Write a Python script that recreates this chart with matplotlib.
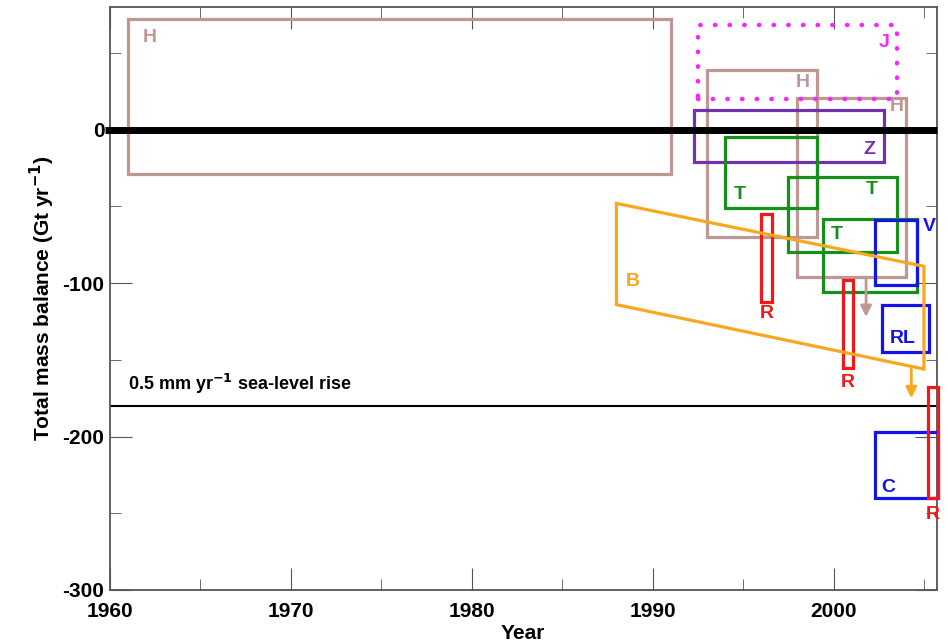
import numpy as np
import matplotlib.pyplot as plt
from matplotlib.patches import Rectangle, Polygon
from matplotlib.ticker import MultipleLocator

plt.rcParams['font.family'] = ['Liberation Sans', 'DejaVu Sans']
plt.rcParams['font.weight'] = 'bold'
plt.rcParams['axes.unicode_minus'] = False

# rectangles: label, start year, end year, low, high
box_labels = ['H', 'H', 'H', 'J', 'Z', 'T', 'T', 'T', 'V', 'RL', 'C', 'R', 'R', 'R']
box_x0 = [1961.0, 1993.0, 1998.0, 1992.5, 1992.3, 1994.0, 1997.5, 1999.4,
          2002.3, 2002.7, 2002.3, 1996.0, 2000.5, 2005.2]
box_x1 = [1991.0, 1999.1, 2004.0, 2003.5, 2002.8, 1999.1, 2003.5, 2004.6,
          2004.6, 2005.3, 2005.8, 1996.6, 2001.05, 2005.75]
box_lo = [-29, -70, -96, 20, -21, -51, -80, -106, -101, -145, -240, -112, -155, -240]
box_hi = [72, 39, 21, 68, 13, -5, -31, -58, -59, -114, -197, -55, -98, -168]

# B parallelogram (year, upper, lower)
b_years = [1988.0, 2005.0]
b_upper = [-48, -89]
b_lower = [-114, -156]

# arrows: year, from, to
arrow_year = [2001.8, 2004.3]
arrow_from = [-96, -156]
arrow_to = [-122, -175]

sea_level = -180

colors = {'H': '#bf9793', 'J': '#ff22ff', 'Z': '#6f33b0', 'T': '#15901a',
          'V': '#1414e6', 'RL': '#1414e6', 'C': '#1414e6', 'R': '#f01818',
          'B': '#f7a81e'}

# label spots (year, value) per box
label_pos = [(1961.8, 60, 'left'), (1998.3, 31, 'center'), (2003.5, 15, 'center'),
             (2002.8, 57, 'center'), (2002.0, -13, 'center'), (1994.8, -42, 'center'),
             (2002.1, -39, 'center'), (2000.2, -68, 'center'), (2005.3, -63, 'center'),
             (2003.8, -136, 'center'), (2003.0, -233, 'center'), (1996.3, -120, 'center'),
             (2000.8, -165, 'center'), (2005.5, -251, 'center')]

fig = plt.figure(figsize=(9.48, 6.44), dpi=100)
ax = fig.add_axes([0.116, 0.084, 0.872, 0.905])

for i in range(len(box_labels)):
    lab = box_labels[i]
    if lab == 'J':
        r = Rectangle((box_x0[i], box_lo[i]), box_x1[i] - box_x0[i],
                      box_hi[i] - box_lo[i], fill=False, ec=colors[lab],
                      lw=3.2, ls=(0, (0.1, 3.2)), capstyle='round', zorder=3)
    else:
        r = Rectangle((box_x0[i], box_lo[i]), box_x1[i] - box_x0[i],
                      box_hi[i] - box_lo[i], fill=False, ec=colors[lab],
                      lw=2.3, clip_on=False, zorder=3)
    ax.add_patch(r)
    px, py, ha = label_pos[i]
    ax.text(px, py, lab, color=colors[lab], fontsize=14, fontweight='bold',
            ha=ha, va='center', zorder=5)

pts = [(b_years[0], b_upper[0]), (b_years[1], b_upper[1]),
       (b_years[1], b_lower[1]), (b_years[0], b_lower[0])]
ax.add_patch(Polygon(pts, closed=True, fill=False, ec=colors['B'], lw=2.3, zorder=3))
ax.text(1988.9, -99, 'B', color=colors['B'], fontsize=14, fontweight='bold',
        ha='center', va='center')

arrow_cols = [colors['H'], colors['B']]
for i in range(len(arrow_year)):
    ax.annotate('', xy=(arrow_year[i], arrow_to[i]), xytext=(arrow_year[i], arrow_from[i]),
                arrowprops=dict(arrowstyle='-|>', color=arrow_cols[i], lw=2.0,
                                mutation_scale=16, shrinkA=0, shrinkB=0))

ax.axhline(0, xmin=-0.006, xmax=1.0, color='black', lw=5, clip_on=False,
           solid_capstyle='butt', zorder=4)
ax.axhline(sea_level, color='black', lw=1.5, zorder=2)
ax.text(1961.0, -166, '0.5 mm yr$^{\\mathbf{-1}}$ sea-level rise', fontsize=13,
        fontweight='bold', ha='left', va='center')

ax.set_xlim(1960, 2005.7)
ax.set_ylim(-300, 80)
ax.xaxis.set_major_locator(MultipleLocator(10))
ax.xaxis.set_minor_locator(MultipleLocator(5))
ax.yaxis.set_major_locator(MultipleLocator(100))
ax.yaxis.set_minor_locator(MultipleLocator(50))
ax.tick_params(which='both', direction='in', top=True, right=True, labelsize=15,
               color='#555555')
ax.tick_params(which='major', length=16)
ax.tick_params(which='minor', length=8)
ax.tick_params(axis='x', which='major', pad=9)
ax.tick_params(axis='y', which='major', pad=4)
for s in ax.spines.values():
    s.set_color('#555555')
    s.set_linewidth(1.3)

ax.set_xlabel('Year', fontsize=15, fontweight='bold', labelpad=2)
ax.set_ylabel('Total mass balance (Gt yr$^{\\mathbf{-1}}$)', fontsize=15,
              fontweight='bold', labelpad=4)

fig.savefig('out.png', dpi=100)
